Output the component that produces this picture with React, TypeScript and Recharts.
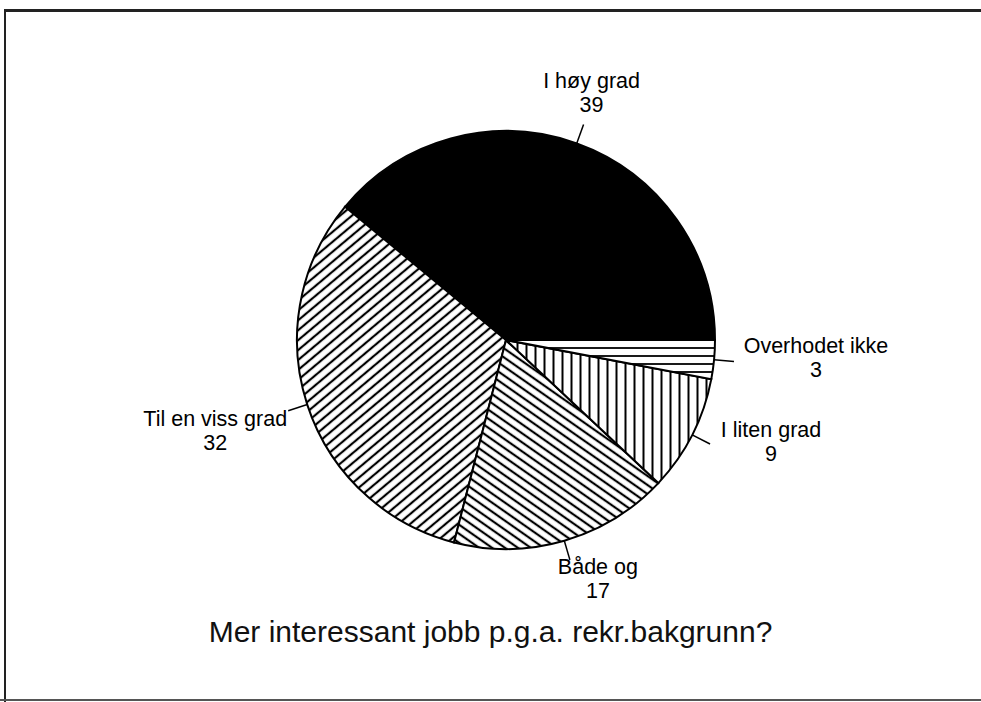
import { PieChart, Pie, Cell } from 'recharts'

const categories = ['I høy grad', 'Til en viss grad', 'Både og', 'I liten grad', 'Overhodet ikke']
const values = [39, 32, 17, 9, 3]

const fills = ['#000', 'url(#hatchUp)', 'url(#hatchDown)', 'url(#hatchVert)', 'url(#hatchHoriz)']
// label block centre, relative to the end of each leader line
const labelOffsets = [
  { dx: 8, dy: -32 },
  { dx: -73, dy: 20 },
  { dx: 28, dy: 19 },
  { dx: 61, dy: -2 },
  { dx: 82, dy: -4 },
]

const data = categories.map((name, i) => ({ name, value: values[i] }))

const FONT = 'Liberation Sans, Arial, Helvetica, sans-serif'
const RADIAN = Math.PI / 180

// eslint-disable-next-line @typescript-eslint/no-explicit-any
function SliceLabel({ cx, cy, midAngle, outerRadius, index, name, value }: any) {
  const cos = Math.cos(-midAngle * RADIAN)
  const sin = Math.sin(-midAngle * RADIAN)
  const x1 = cx + outerRadius * cos
  const y1 = cy + outerRadius * sin
  const x2 = cx + (outerRadius + 20) * cos
  const y2 = cy + (outerRadius + 20) * sin
  const off = labelOffsets[index]
  const tx = x2 + off.dx
  const ty = y2 + off.dy
  return (
    <g>
      <line x1={x1} y1={y1} x2={x2} y2={y2} stroke="#000" strokeWidth={1.5} />
      <text x={tx} y={ty - 12} textAnchor="middle" dominantBaseline="central" fontFamily={FONT} fontSize={21.5} fill="#000">
        {name}
      </text>
      <text x={tx} y={ty + 12} textAnchor="middle" dominantBaseline="central" fontFamily={FONT} fontSize={21.5} fill="#000">
        {value}
      </text>
    </g>
  )
}

function Patterns() {
  return (
    <svg width={0} height={0} style={{ position: 'absolute' }}>
      <defs>
        <pattern id="hatchUp" patternUnits="userSpaceOnUse" width={8} height={7.6} patternTransform="rotate(-40)">
          <rect width={8} height={7.6} fill="#fff" />
          <line x1={0} y1={3.8} x2={8} y2={3.8} stroke="#000" strokeWidth={2.2} />
        </pattern>
        <pattern id="hatchDown" patternUnits="userSpaceOnUse" width={8} height={7.4} patternTransform="rotate(35)">
          <rect width={8} height={7.4} fill="#fff" />
          <line x1={0} y1={3.7} x2={8} y2={3.7} stroke="#000" strokeWidth={2.2} />
        </pattern>
        <pattern id="hatchVert" patternUnits="userSpaceOnUse" width={9} height={9}>
          <rect width={9} height={9} fill="#fff" />
          <line x1={4.5} y1={0} x2={4.5} y2={9} stroke="#000" strokeWidth={2} />
        </pattern>
        <pattern id="hatchHoriz" patternUnits="userSpaceOnUse" width={8} height={8}>
          <rect width={8} height={8} fill="#fff" />
          <line x1={0} y1={4} x2={8} y2={4} stroke="#000" strokeWidth={1.8} />
        </pattern>
      </defs>
    </svg>
  )
}

export default function App() {
  return (
    <div style={{ position: 'absolute', left: 0, top: 0, width: 981, height: 702, background: '#fff', overflow: 'hidden' }}>
      <Patterns />
      {/* frame: top, left and bottom rules of the scanned page */}
      <div style={{ position: 'absolute', left: 4, top: 9, width: 977, height: 3, background: '#222' }} />
      <div style={{ position: 'absolute', left: 4, top: 9, width: 2, height: 693, background: '#222' }} />
      <div style={{ position: 'absolute', left: 0, top: 699, width: 981, height: 2, background: '#555' }} />
      <div style={{ position: 'absolute', left: 0, top: 0 }}>
        <PieChart width={981} height={702}>
          <Pie
            data={data}
            dataKey="value"
            nameKey="name"
            cx={501}
            cy={335}
            outerRadius={209}
            startAngle={0}
            endAngle={360}
            stroke="#000"
            strokeWidth={2}
            label={SliceLabel}
            labelLine={false}
            isAnimationActive={false}
          >
            {data.map((_, i) => (
              <Cell key={i} fill={fills[i]} />
            ))}
          </Pie>
        </PieChart>
      </div>
      <div
        style={{
          position: 'absolute',
          left: 0,
          width: 981,
          top: 612,
          textAlign: 'center',
          fontFamily: FONT,
          fontSize: 30,
          color: '#111',
          lineHeight: '40px',
        }}
      >
        Mer interessant jobb p.g.a. rekr.bakgrunn?
      </div>
    </div>
  )
}
